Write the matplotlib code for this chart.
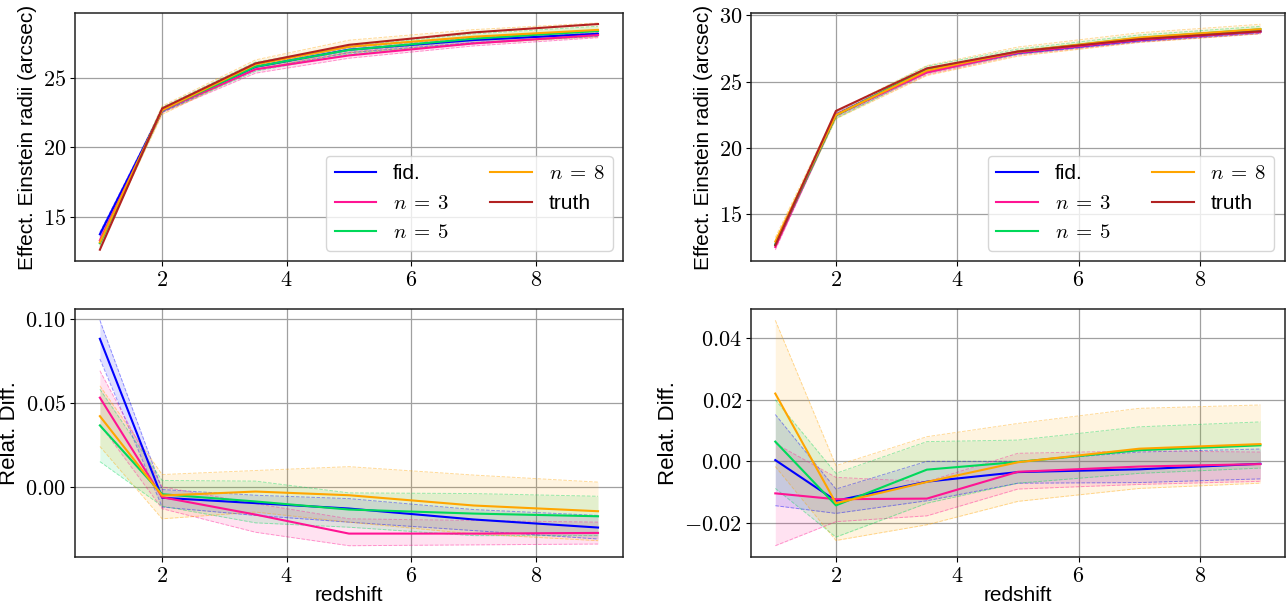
import matplotlib
matplotlib.use('Agg')
import matplotlib.pyplot as plt
from matplotlib.ticker import FuncFormatter

plt.rcParams.update({
    'font.family': ['Liberation Sans', 'DejaVu Sans'],
    'mathtext.fontset': 'cm',
    'axes.edgecolor': '#222222',
    'axes.linewidth': 1.1,
})

REDSHIFT = [1, 2, 3.5, 5, 7, 9]
LABELS = ["fid.", r"$n\:=\:3$", r"$n\:=\:5$", r"$n\:=\:8$"]
COLORS = ["#0000ff", "#ff1493", "#00d95a", "#ffa500"]
TRUTH_COLOR = "#b22222"

# --- left column: absolute Einstein radii (arcsec) ---
truth_l = [12.67, 22.80, 26.03, 27.36, 28.25, 28.85]
radii_l = [
    [13.78, 22.65, 25.78, 27.01, 27.70, 28.15],
    [13.34, 22.66, 25.60, 26.60, 27.46, 28.06],
    [13.13, 22.70, 25.80, 26.99, 27.80, 28.35],
    [13.20, 22.68, 25.96, 27.22, 27.94, 28.43],
]
radii_up_l = [
    [13.92, 22.76, 25.90, 27.17, 27.87, 28.36],
    [13.54, 22.80, 25.77, 26.84, 27.69, 28.24],
    [13.40, 22.89, 26.12, 27.26, 28.14, 28.69],
    [13.43, 22.97, 26.28, 27.69, 28.45, 28.93],
]
radii_lo_l = [
    [13.63, 22.53, 25.59, 26.79, 27.52, 27.96],
    [13.14, 22.50, 25.33, 26.40, 27.28, 27.87],
    [12.86, 22.54, 25.47, 26.70, 27.43, 28.01],
    [12.97, 22.37, 25.64, 26.79, 27.46, 27.93],
]
# relative differences
rel_l = [
    [0.088, -0.0065, -0.0097, -0.0129, -0.0194, -0.0242],
    [0.053, -0.0062, -0.0165, -0.0278, -0.0278, -0.0274],
    [0.0365, -0.0044, -0.0087, -0.0135, -0.0159, -0.0175],
    [0.042, -0.0052, -0.0028, -0.0050, -0.0111, -0.0145],
]
rel_up_l = [
    [0.099, -0.0016, -0.0050, -0.0070, -0.0135, -0.0170],
    [0.069, 0.0000, -0.0100, -0.0190, -0.0200, -0.0210],
    [0.058, 0.0038, 0.0034, -0.0036, -0.0040, -0.0056],
    [0.060, 0.0073, 0.0097, 0.0120, 0.0070, 0.0028],
]
rel_lo_l = [
    [0.076, -0.0120, -0.0170, -0.0210, -0.0260, -0.0310],
    [0.037, -0.0130, -0.0270, -0.0350, -0.0345, -0.0340],
    [0.015, -0.0115, -0.0214, -0.0240, -0.0290, -0.0290],
    [0.024, -0.0190, -0.0150, -0.0210, -0.0280, -0.0320],
]

# --- right column ---
truth_r = [12.63, 22.78, 26.00, 27.27, 28.20, 28.80]
radii_r = [
    [12.64, 22.49, 25.83, 27.17, 28.13, 28.78],
    [12.50, 22.50, 25.69, 27.18, 28.15, 28.77],
    [12.71, 22.45, 25.93, 27.26, 28.30, 28.95],
    [12.91, 22.47, 25.83, 27.26, 28.32, 28.96],
]
radii_up_r = [
    [12.82, 22.57, 26.00, 27.27, 28.26, 28.92],
    [12.70, 22.66, 25.83, 27.34, 28.29, 28.87],
    [12.88, 22.69, 26.17, 27.46, 28.52, 29.17],
    [13.21, 22.75, 26.21, 27.61, 28.69, 29.33],
]
radii_lo_r = [
    [12.45, 22.40, 25.67, 27.08, 28.01, 28.64],
    [12.28, 22.33, 25.54, 27.02, 27.99, 28.63],
    [12.52, 22.22, 25.65, 27.08, 28.09, 28.73],
    [12.61, 22.19, 25.46, 26.92, 27.95, 28.60],
]
rel_r = [
    [0.0004, -0.0128, -0.0066, -0.0035, -0.0026, -0.0008],
    [-0.0104, -0.0123, -0.0121, -0.0034, -0.0017, -0.0009],
    [0.0064, -0.0143, -0.0027, -0.0002, 0.0036, 0.0052],
    [0.0220, -0.0136, -0.0067, -0.0003, 0.0041, 0.0056],
]
rel_up_r = [
    [0.0152, -0.0090, 0.0000, 0.0000, 0.0030, 0.0040],
    [0.0058, -0.0052, -0.0066, 0.0026, 0.0034, 0.0030],
    [0.0200, -0.0039, 0.0064, 0.0069, 0.0112, 0.0128],
    [0.0458, -0.0014, 0.0080, 0.0123, 0.0172, 0.0183],
]
rel_lo_r = [
    [-0.0144, -0.0169, -0.0128, -0.0071, -0.0069, -0.0057],
    [-0.0274, -0.0196, -0.0177, -0.0090, -0.0075, -0.0065],
    [-0.0088, -0.0246, -0.0136, -0.0071, -0.0039, -0.0022],
    [-0.0017, -0.0257, -0.0206, -0.0130, -0.0088, -0.0071],
]


def draw_bands(ax, means, ups, los):
    for up, lo, c in zip(ups, los, COLORS):
        ax.fill_between(REDSHIFT, lo, up, color=c, alpha=0.12, linewidth=0)
        ax.plot(REDSHIFT, up, color=c, ls='--', lw=0.7, alpha=0.4)
        ax.plot(REDSHIFT, lo, color=c, ls='--', lw=0.7, alpha=0.4)
    for m, c, lab in zip(means, COLORS, LABELS):
        ax.plot(REDSHIFT, m, color=c, lw=1.5, label=lab)


def style(ax, fmt):
    ax.grid(True, color='#a0a0a0', lw=0.9)
    ax.set_axisbelow(True)
    ax.xaxis.set_major_formatter(FuncFormatter(lambda v, _: f'${v:.0f}$'))
    ax.yaxis.set_major_formatter(FuncFormatter(lambda v, _: ('$' + fmt + '$').format(v)))
    ax.tick_params(labelsize=16, pad=3)


fig = plt.figure(figsize=(12.86, 6.08), dpi=100)
ax_tl = fig.add_axes([0.0583, 0.5707, 0.4261, 0.4079])
ax_tr = fig.add_axes([0.5840, 0.5707, 0.4150, 0.4079])
ax_bl = fig.add_axes([0.0583, 0.0839, 0.4261, 0.4079])
ax_br = fig.add_axes([0.5840, 0.0839, 0.4150, 0.4079])

for ax, truth, m, up, lo in [(ax_tl, truth_l, radii_l, radii_up_l, radii_lo_l),
                             (ax_tr, truth_r, radii_r, radii_up_r, radii_lo_r)]:
    draw_bands(ax, m, up, lo)
    ax.plot(REDSHIFT, truth, color=TRUTH_COLOR, lw=1.5, label='truth')
    style(ax, '{:.0f}')
    ax.set_yticks([15, 20, 25, 30])
    ax.set_ylabel("Effect. Einstein radii (arcsec)", fontsize=15, labelpad=4)
    ax.legend(loc='lower right', ncol=2, fontsize=15, handlelength=2.0,
              columnspacing=2.0)

ax_tl.set_ylim(11.86, 29.64)
ax_tr.set_ylim(11.44, 30.18)

for ax, m, up, lo in [(ax_bl, rel_l, rel_up_l, rel_lo_l),
                      (ax_br, rel_r, rel_up_r, rel_lo_r)]:
    draw_bands(ax, m, up, lo)
    style(ax, '{:.2f}')
    ax.set_ylabel("Relat. Diff.", fontsize=16, labelpad=4)
    ax.set_xlabel("redshift", fontsize=15, labelpad=-1)

ax_bl.set_yticks([0.0, 0.05, 0.10])
ax_br.set_yticks([-0.02, 0.0, 0.02, 0.04])

fig.savefig('out.png', dpi=100)
